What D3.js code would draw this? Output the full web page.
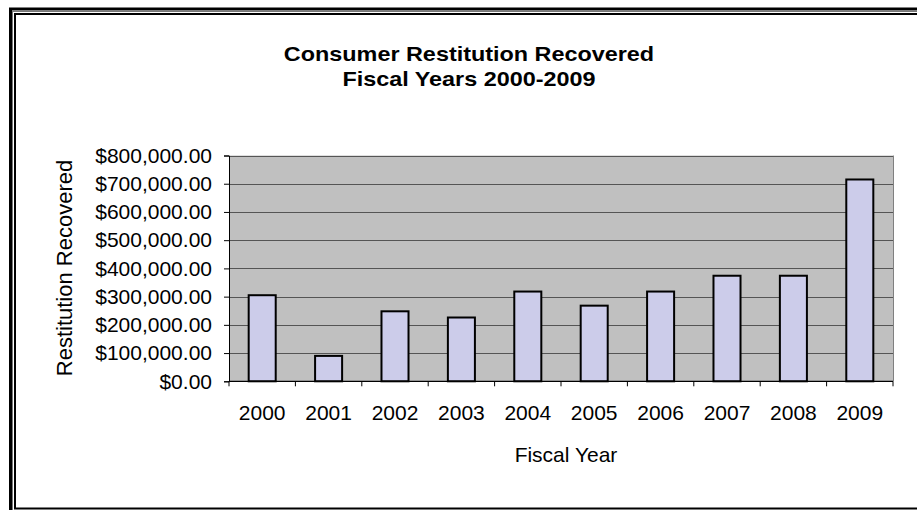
<!DOCTYPE html>
<html><head><meta charset="utf-8">
<script src="https://cdn.jsdelivr.net/npm/d3@7"></script>
<style>
html,body{margin:0;padding:0;background:#fff;}
svg{display:block;}
text{font-family:"Liberation Sans",Arial,sans-serif;fill:#000;}
</style></head>
<body><svg id="c" width="917" height="510"></svg>
<script>
const years = ["2000","2001","2002","2003","2004","2005","2006","2007","2008","2009"];
const restitution = [305000, 90000, 248000, 226000, 318000, 268000, 318000, 374000, 374000, 715000];
const yTicks = [0,100000,200000,300000,400000,500000,600000,700000,800000];
const titleLines = ["Consumer Restitution Recovered","Fiscal Years 2000-2009"];
const xTitle = "Fiscal Year";
const yTitle = "Restitution Recovered";

const svg = d3.select("#c");
const L=229, R=893, T=155.5, B=381.3;

// frame
svg.append("rect").attr("x",10.5).attr("y",9).attr("width",940).attr("height",540)
  .attr("fill","none").attr("stroke","#000").attr("stroke-width",3);
svg.append("rect").attr("x",12.5).attr("y",11.5).attr("width",940).attr("height",540)
  .attr("fill","none").attr("stroke","#777").attr("stroke-width",1);
svg.append("rect").attr("x",15).attr("y",14).attr("width",940).attr("height",494.5)
  .attr("fill","none").attr("stroke","#000").attr("stroke-width",2);

const x = d3.scaleBand().domain(years).range([L,R]).paddingInner(0.593).paddingOuter(0.2965);
const y = d3.scaleLinear().domain([0,800000]).range([B,T]);

svg.append("rect").attr("x",L).attr("y",T).attr("width",R-L).attr("height",B-T).attr("fill","#c0c0c0");
svg.append("g").selectAll("line").data(yTicks.slice(1)).join("line")
  .attr("x1",L).attr("x2",R).attr("y1",d=>Math.round(y(d))+0.5).attr("y2",d=>Math.round(y(d))+0.5)
  .attr("stroke","#555").attr("stroke-width",1);
svg.append("line").attr("x1",R+0.5).attr("x2",R+0.5).attr("y1",T).attr("y2",B).attr("stroke","#808080");

svg.append("g").selectAll("rect").data(restitution).join("rect")
  .attr("x",(d,i)=>x(years[i])).attr("width",x.bandwidth())
  .attr("y",d=>y(d)).attr("height",d=>B-y(d))
  .attr("fill","#ccccea").attr("stroke","#000").attr("stroke-width",2);

const fmt = d=>"$"+d3.format(",.2f")(d);
const yAxis = d3.axisLeft(y).tickValues(yTicks).tickFormat(fmt).tickSize(5).tickPadding(12);
const gy = svg.append("g").attr("transform",`translate(${L},0)`).call(yAxis);
gy.selectAll("text").attr("font-size",21).attr("font-family","Liberation Sans, Arial, sans-serif").attr("fill","#000");
gy.selectAll("line,path").attr("stroke","#000");

const bounds = years.map(v=>x(v)-x.step()*x.paddingInner()/2).concat([R]);
const gx = svg.append("g");
gx.append("line").attr("x1",L).attr("x2",R).attr("y1",B).attr("y2",B).attr("stroke","#000").attr("stroke-width",1.2);
gx.selectAll("line.t").data(bounds).join("line").attr("class","t")
  .attr("x1",d=>d).attr("x2",d=>d).attr("y1",B).attr("y2",B+5).attr("stroke","#000");
gx.selectAll("text").data(years).join("text")
  .attr("x",d=>x(d)+x.bandwidth()/2).attr("y",420).attr("text-anchor","middle")
  .attr("font-size",21).text(d=>d);

svg.append("text").attr("x",566).attr("y",462).attr("text-anchor","middle").attr("font-size",21).text(xTitle);
svg.append("text").attr("transform","translate(72,268) rotate(-90)").attr("text-anchor","middle")
  .attr("font-size",22).text(yTitle);

svg.append("g").selectAll("text").data(titleLines).join("text")
  .attr("transform",(d,i)=>`translate(469,${61+i*25}) scale(1.17,1)`).attr("text-anchor","middle")
  .attr("font-size",20).attr("font-weight","bold").text(d=>d);
</script></body></html>
